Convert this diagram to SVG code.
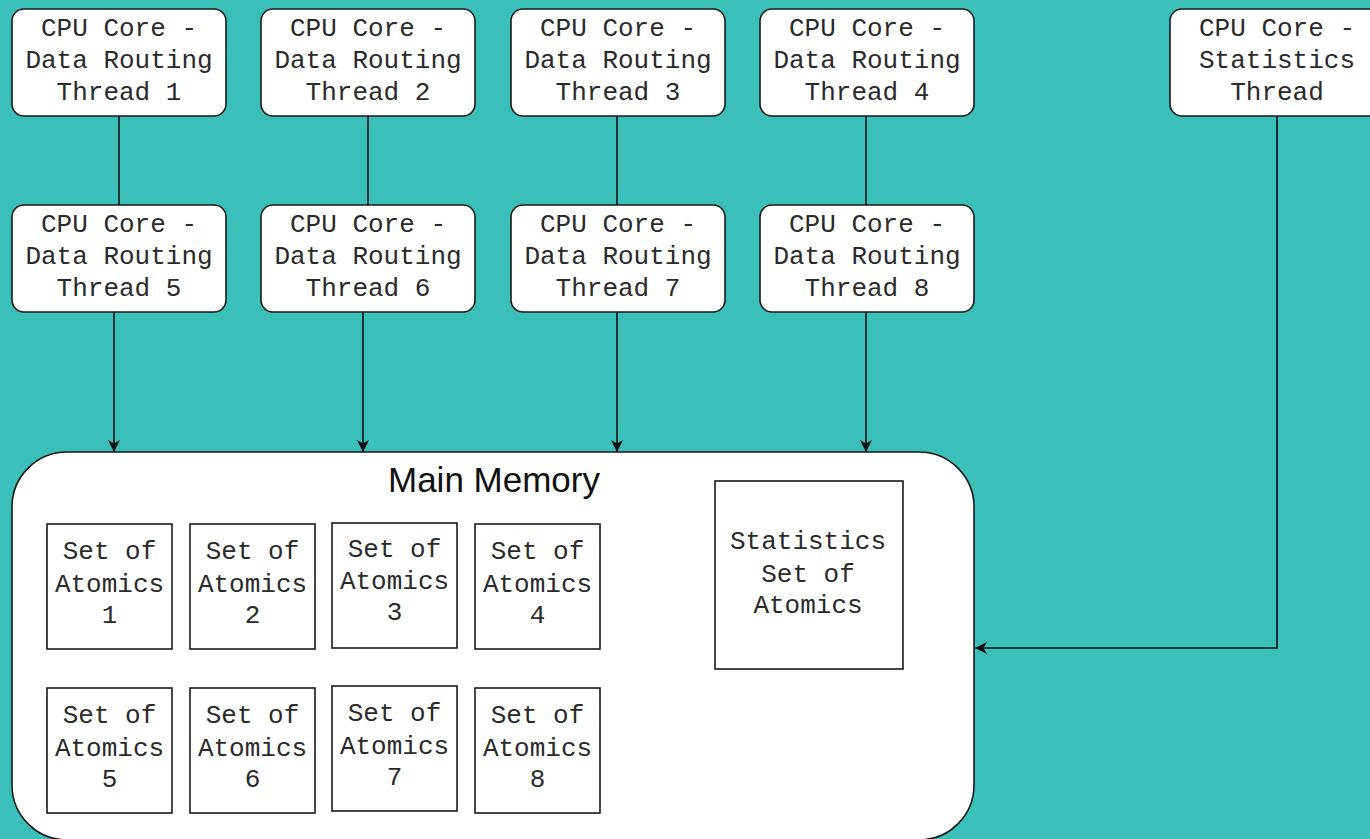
<svg xmlns="http://www.w3.org/2000/svg" width="1370" height="839" viewBox="0 0 1370 839">
<style>
.bg{fill:#3ABFB9}
.node{fill:#ffffff;stroke:#1a1a1a;stroke-width:1.6}
.box{fill:#ffffff;stroke:#1a1a1a;stroke-width:1.6}
.t{font-family:"Liberation Mono","Courier New",monospace;font-size:26px;fill:#2a2a2a;text-anchor:middle}
.title{font-family:"Liberation Sans",Arial,sans-serif;font-size:35px;fill:#111;text-anchor:middle}
.edge{fill:none;stroke:#111;stroke-width:1.6}
</style>
<defs>
<marker id="arr" viewBox="0 0 10 10" refX="10" refY="5" markerWidth="13" markerHeight="12" markerUnits="userSpaceOnUse" orient="auto">
<path d="M0,0 L10,5 L0,10 L3,5 z" fill="#111"/>
</marker>
</defs>
<rect class="bg" x="0" y="0" width="1370" height="839"/>

<g id="main-memory">
<rect class="node" x="12" y="452" width="962" height="388" rx="55" ry="55"/>
<text class="title" x="494" y="492">Main Memory</text>
</g>

<g id="connectors">
<line class="edge" x1="119" y1="116" x2="119" y2="205"/>
<line class="edge" x1="368" y1="116" x2="368" y2="205"/>
<line class="edge" x1="617" y1="116" x2="617" y2="205"/>
<line class="edge" x1="866" y1="116" x2="866" y2="205"/>
<line class="edge" x1="114" y1="312" x2="114" y2="452" marker-end="url(#arr)"/>
<line class="edge" x1="363" y1="312" x2="363" y2="452" marker-end="url(#arr)"/>
<line class="edge" x1="617" y1="312" x2="617" y2="452" marker-end="url(#arr)"/>
<line class="edge" x1="866" y1="312" x2="866" y2="452" marker-end="url(#arr)"/>
<polyline class="edge" points="1277,116 1277,648 975,648" marker-end="url(#arr)"/>
</g>

<g id="thread1"><rect class="node" x="12" y="9" width="214" height="107" rx="12"/>
<text class="t" x="119" y="36">CPU Core -</text><text class="t" x="119" y="68">Data Routing</text><text class="t" x="119" y="100">Thread 1</text></g>
<g id="thread2"><rect class="node" x="261" y="9" width="214" height="107" rx="12"/>
<text class="t" x="368" y="36">CPU Core -</text><text class="t" x="368" y="68">Data Routing</text><text class="t" x="368" y="100">Thread 2</text></g>
<g id="thread3"><rect class="node" x="511" y="9" width="214" height="107" rx="12"/>
<text class="t" x="618" y="36">CPU Core -</text><text class="t" x="618" y="68">Data Routing</text><text class="t" x="618" y="100">Thread 3</text></g>
<g id="thread4"><rect class="node" x="760" y="9" width="214" height="107" rx="12"/>
<text class="t" x="867" y="36">CPU Core -</text><text class="t" x="867" y="68">Data Routing</text><text class="t" x="867" y="100">Thread 4</text></g>
<g id="stats-thread"><rect class="node" x="1170" y="9" width="214" height="107" rx="12"/>
<text class="t" x="1277" y="36">CPU Core -</text><text class="t" x="1277" y="68">Statistics</text><text class="t" x="1277" y="100">Thread</text></g>

<g id="thread5"><rect class="node" x="12" y="205" width="214" height="107" rx="12"/>
<text class="t" x="119" y="232">CPU Core -</text><text class="t" x="119" y="264">Data Routing</text><text class="t" x="119" y="296">Thread 5</text></g>
<g id="thread6"><rect class="node" x="261" y="205" width="214" height="107" rx="12"/>
<text class="t" x="368" y="232">CPU Core -</text><text class="t" x="368" y="264">Data Routing</text><text class="t" x="368" y="296">Thread 6</text></g>
<g id="thread7"><rect class="node" x="511" y="205" width="214" height="107" rx="12"/>
<text class="t" x="618" y="232">CPU Core -</text><text class="t" x="618" y="264">Data Routing</text><text class="t" x="618" y="296">Thread 7</text></g>
<g id="thread8"><rect class="node" x="760" y="205" width="214" height="107" rx="12"/>
<text class="t" x="867" y="232">CPU Core -</text><text class="t" x="867" y="264">Data Routing</text><text class="t" x="867" y="296">Thread 8</text></g>

<g id="atomics1"><rect class="box" x="47" y="524" width="125" height="125"/>
<text class="t" x="109.5" y="559">Set of</text><text class="t" x="109.5" y="592">Atomics</text><text class="t" x="109.5" y="623">1</text></g>
<g id="atomics2"><rect class="box" x="190" y="524" width="125" height="125"/>
<text class="t" x="252.5" y="559">Set of</text><text class="t" x="252.5" y="592">Atomics</text><text class="t" x="252.5" y="623">2</text></g>
<g id="atomics3"><rect class="box" x="332" y="523" width="125" height="125"/>
<text class="t" x="394.5" y="557">Set of</text><text class="t" x="394.5" y="589">Atomics</text><text class="t" x="394.5" y="620">3</text></g>
<g id="atomics4"><rect class="box" x="475" y="524" width="125" height="125"/>
<text class="t" x="537.5" y="559">Set of</text><text class="t" x="537.5" y="592">Atomics</text><text class="t" x="537.5" y="623">4</text></g>

<g id="atomics5"><rect class="box" x="47" y="688" width="125" height="125"/>
<text class="t" x="109.5" y="723">Set of</text><text class="t" x="109.5" y="756">Atomics</text><text class="t" x="109.5" y="787">5</text></g>
<g id="atomics6"><rect class="box" x="190" y="688" width="125" height="125"/>
<text class="t" x="252.5" y="723">Set of</text><text class="t" x="252.5" y="756">Atomics</text><text class="t" x="252.5" y="787">6</text></g>
<g id="atomics7"><rect class="box" x="332" y="686" width="125" height="125"/>
<text class="t" x="394.5" y="721">Set of</text><text class="t" x="394.5" y="754">Atomics</text><text class="t" x="394.5" y="785">7</text></g>
<g id="atomics8"><rect class="box" x="475" y="688" width="125" height="125"/>
<text class="t" x="537.5" y="723">Set of</text><text class="t" x="537.5" y="756">Atomics</text><text class="t" x="537.5" y="787">8</text></g>

<g id="stats-atomics"><rect class="box" x="715" y="481" width="188" height="188"/>
<text class="t" x="808" y="549">Statistics</text><text class="t" x="808" y="582">Set of</text><text class="t" x="808" y="613">Atomics</text></g>
</svg>
